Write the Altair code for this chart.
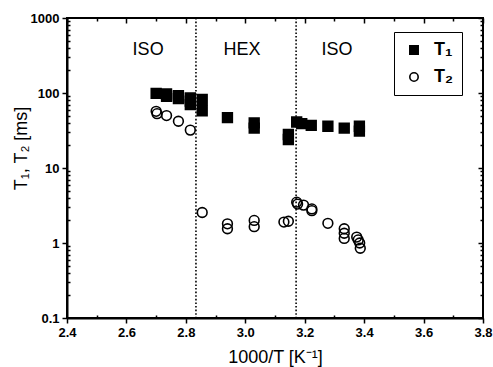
import altair as alt
import pandas as pd

# ---- data ----
t1_x = [2.700, 2.735, 2.735, 2.775, 2.775, 2.815, 2.815, 2.815, 2.855, 2.855, 2.940,
        3.030, 3.030, 3.145, 3.145, 3.173, 3.190, 3.222, 3.278, 3.333, 3.384, 3.384]
t1_y = [99, 97, 90, 92, 84, 86, 78, 70, 82, 58, 47,
        40, 34, 28, 24, 41, 39, 37, 36, 34, 36, 31]

t2_x = [2.700, 2.703, 2.735, 2.775, 2.815, 2.855, 2.940, 2.940, 3.030, 3.030, 3.130,
        3.145, 3.173, 3.176, 3.196, 3.224, 3.224, 3.278, 3.333, 3.333, 3.333,
        3.375, 3.380, 3.385, 3.387]
t2_y = [57, 53, 50, 42, 32, 2.55, 1.8, 1.55, 2.0, 1.65, 1.9,
        1.95, 3.5, 3.3, 3.2, 2.85, 2.7, 1.83, 1.55, 1.35, 1.15,
        1.2, 1.1, 1.0, 0.85]

series_names = ["T₁", "T₂"]

phase_labels = ["ISO", "HEX", "ISO"]
phase_x = [2.673, 2.989, 3.309]
phase_y = [370, 370, 370]

boundaries = [2.834, 3.171]

x_major = [2.4, 2.6, 2.8, 3.0, 3.2, 3.4, 3.6, 3.8]
x_minor = [2.5, 2.7, 2.9, 3.1, 3.3, 3.5, 3.7]
y_major = [0.1, 1, 10, 100, 1000]
y_minor = [m * d for d in [0.1, 1, 10, 100] for m in range(2, 10)]

# ---- tables ----
df = pd.DataFrame({
    "x": t1_x + t2_x,
    "y": t1_y + t2_y,
    "series": [series_names[0]] * len(t1_x) + [series_names[1]] * len(t2_x),
})
ann = pd.DataFrame({"label": phase_labels, "x": phase_x, "y": phase_y})
bnd = pd.DataFrame({"x": boundaries})

W, H = 416, 300
FONT = "Liberation Sans"

xs = alt.Scale(domain=[2.4, 3.8], nice=False, zero=False)
ys = alt.Scale(type="log", domain=[0.1, 1000], nice=False)

legend = alt.Legend(
    title=None, orient="none", legendX=327, legendY=14, direction="vertical",
    strokeColor="black", padding=9, rowPadding=9, labelOffset=11, symbolOffset=2,
    labelFont=FONT, labelFontSize=18, labelFontWeight="bold", labelColor="black",
    symbolSize=70, symbolStrokeWidth=1.6,
)

points = alt.Chart(df).mark_point(
    filled=True, strokeWidth=1.6, size=95, opacity=1
).encode(
    x=alt.X("x:Q", scale=xs, axis=alt.Axis(
        orient="bottom", values=x_major, format=".1f", tickSize=5, tickWidth=1.5,
        tickColor="black", domain=True, domainColor="black", domainWidth=2,
        labelFont=FONT, labelFontSize=13, labelFontWeight="bold", labelColor="black",
        labelPadding=3, labelFlush=False, labelOverlap=False, grid=False,
        title="1000/T  [K⁻¹]", titleFont=FONT, titleFontSize=18, titleFontWeight="normal",
        titleColor="black", titlePadding=9)),
    y=alt.Y("y:Q", scale=ys, axis=alt.Axis(
        orient="left", values=y_major, format="~g", tickSize=5, tickWidth=1.5,
        tickColor="black", domain=True, domainColor="black", domainWidth=2,
        labelFont=FONT, labelFontSize=13, labelFontWeight="bold", labelColor="black",
        labelPadding=3, labelFlush=False, labelOverlap=False, grid=False,
        title="T₁, T₂ [ms]", titleFont=FONT, titleFontSize=18, titleFontWeight="normal",
        titleColor="black", titleX=-46, titleY=130, titleBaseline="middle", titleAlign="center")),
    shape=alt.Shape("series:N", scale=alt.Scale(domain=series_names, range=["square", "circle"]),
                    legend=legend),
    fill=alt.Fill("series:N", scale=alt.Scale(domain=series_names, range=["black", "transparent"]),
                  legend=legend),
    stroke=alt.Stroke("series:N", scale=alt.Scale(domain=series_names, range=["black", "black"]),
                      legend=legend),
)


def tick_layer(xorient, yorient, xvals, yvals, size, inward):
    off = -size if inward else 0
    return alt.Chart(df).mark_point(opacity=0).encode(
        x=alt.X("x:Q", scale=xs, axis=alt.Axis(
            orient=xorient, values=xvals, labels=False, domain=False, grid=False,
            tickSize=size, tickWidth=1.5, tickColor="black", offset=off, title=None)),
        y=alt.Y("y:Q", scale=ys, axis=alt.Axis(
            orient=yorient, values=yvals, labels=False, domain=False, grid=False,
            tickSize=size, tickWidth=1.5, tickColor="black", offset=off, title=None)),
    )


minor_in = tick_layer("bottom", "left", x_minor, y_minor, 3, True)
top_major = tick_layer("top", "right", x_major, y_major, 5, True)
top_minor = tick_layer("top", "right", x_minor, y_minor, 3, True)

rules = alt.Chart(bnd).mark_rule(
    color="black", strokeWidth=1.6, strokeDash=[1.6, 2]
).encode(
    x=alt.X("x:Q", scale=xs, axis=None),
    y=alt.value(0), y2=alt.value(H),
)

texts = alt.Chart(ann).mark_text(
    font=FONT, fontSize=18, color="black", baseline="middle", align="center"
).encode(
    x=alt.X("x:Q", scale=xs, axis=None),
    y=alt.Y("y:Q", scale=ys, axis=None),
    text="label:N",
)

chart = alt.layer(
    rules, texts, points, minor_in, top_major, top_minor
).resolve_axis(
    x="independent", y="independent"
).properties(
    width=W, height=H,
    autosize=alt.AutoSizeParams(type="none"),
    padding={"left": 67, "top": 18, "right": 10, "bottom": 49},
    background="white",
).configure_view(
    stroke="black", strokeWidth=2
)

chart.save("out.html", embed_options={"renderer": "svg", "actions": False})
